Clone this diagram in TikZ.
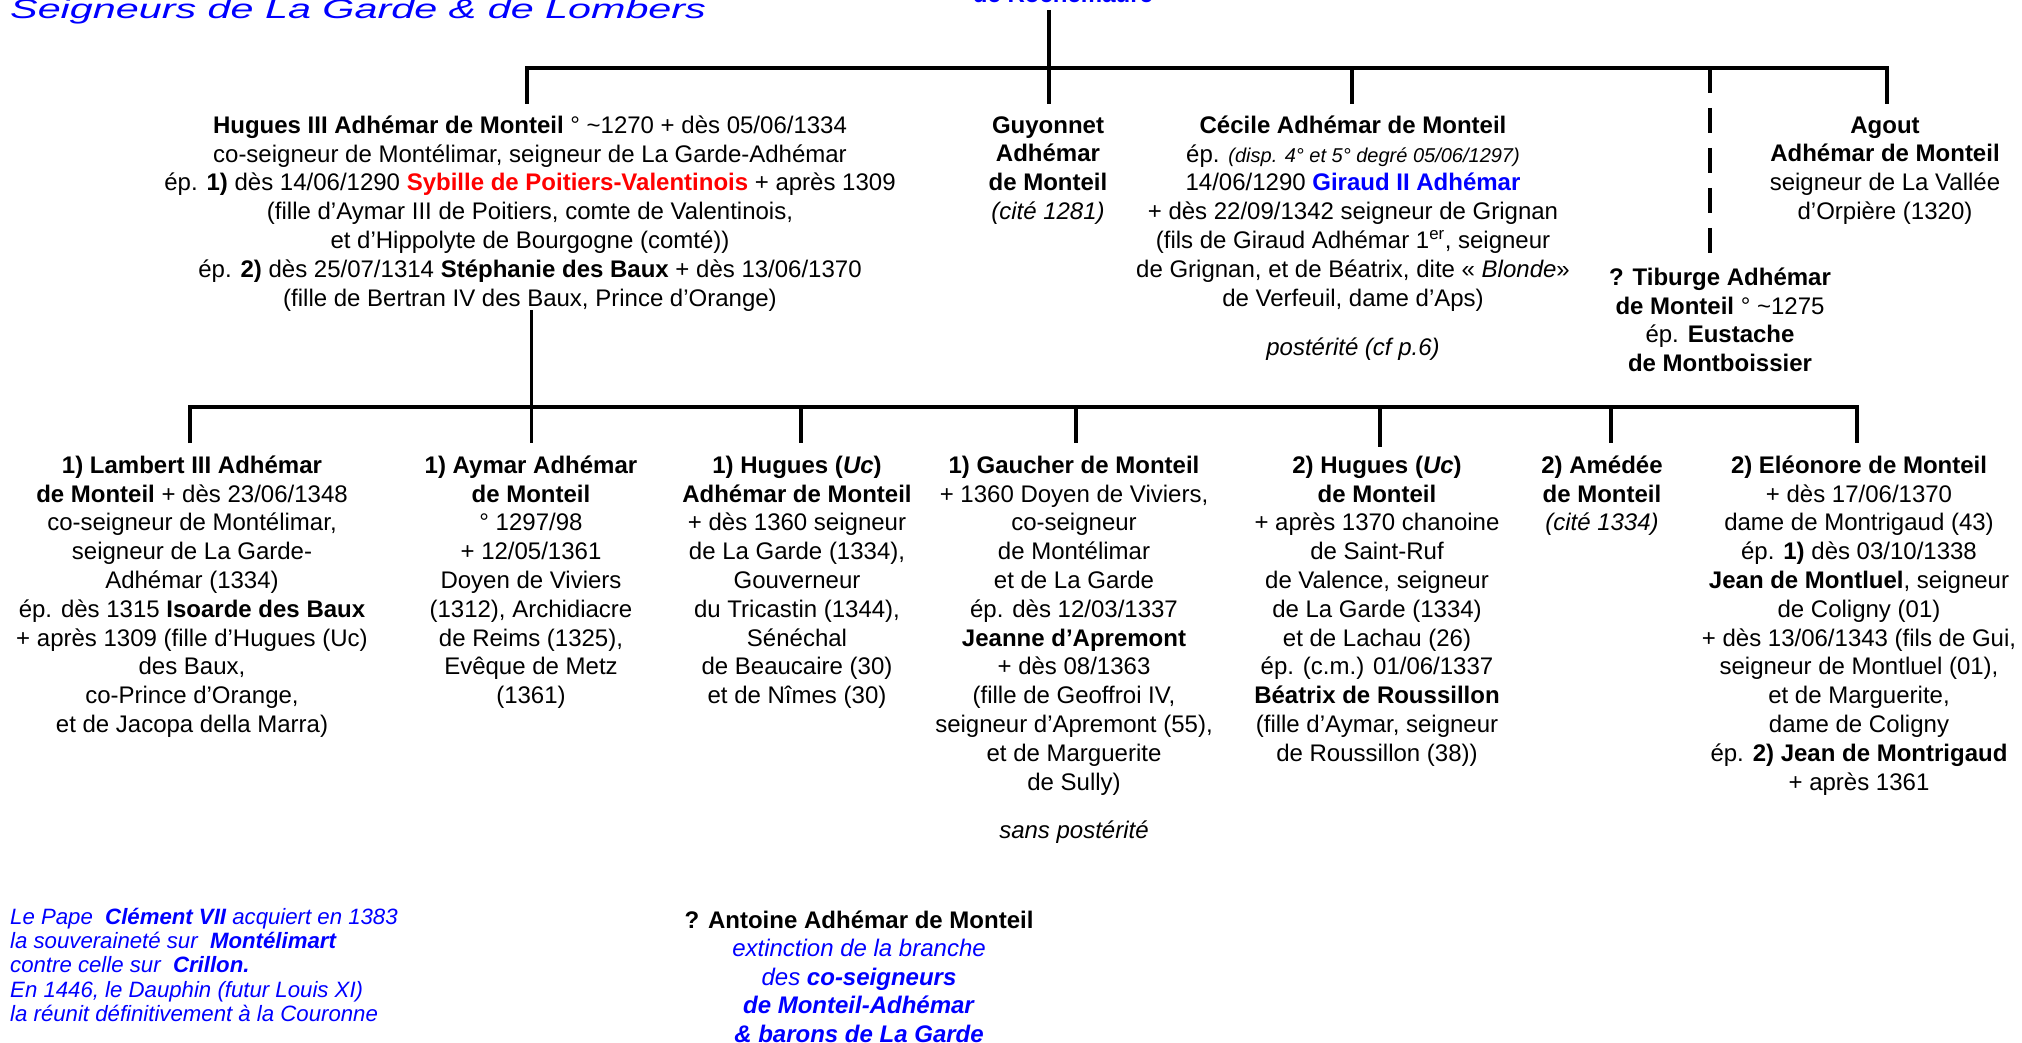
\documentclass[tikz,border=0pt]{standalone}
\usepackage{fontspec}
\usepackage{graphicx}
\setmainfont{Liberation Sans}
\definecolor{tblue}{RGB}{0,0,255}
\definecolor{tred}{RGB}{255,0,0}
\newcommand\fs{\rule{0pt}{22pt}}
\newcommand\fsn{\rule{0pt}{19pt}}
\tikzset{
  person/.style={anchor=north, align=center, inner sep=0pt, font=\fontsize{24}{28.8}\selectfont},
  note/.style={anchor=north west, align=left, inner sep=0pt, text=tblue, font=\fontsize{22.2}{24.3}\selectfont\itshape},
  link/.style={line width=4pt},
  thinlink/.style={line width=3pt},
}
\begin{document}
\begin{tikzpicture}[x=1pt,y=-1pt]
\useasboundingbox (0,0) rectangle (2022,1043);
\fill[white] (0,0) rectangle (2022,1043);

% title and head
\node[anchor=base west, inner sep=0pt, text=tblue, font=\fontsize{27}{30}\selectfont\itshape] (title) at (10,19)
  {\scalebox{1.53}[1]{Seigneurs de La Garde \& de Lombers}};
\node[anchor=base, inner sep=0pt, text=tblue, font=\fontsize{24}{28.8}\selectfont\bfseries] (roch) at (1063,3) {de Rochemaure};

% first generation
\node[person] (hugues) at (530,111) {\fs\textbf{Hugues III Adhémar de Monteil} ° \textasciitilde1270 + dès 05/06/1334\\
co-seigneur de Montélimar, seigneur de La Garde-Adhémar\\
ép. \textbf{1)} dès 14/06/1290 \textcolor{tred}{\textbf{Sybille de Poitiers-Valentinois}} + après 1309\\
(fille d’Aymar III de Poitiers, comte de Valentinois,\\
et d’Hippolyte de Bourgogne (comté))\\
ép. \textbf{2)} dès 25/07/1314 \textbf{Stéphanie des Baux} + dès 13/06/1370\\
(fille de Bertran IV des Baux, Prince d’Orange)};

\node[person] (guyonnet) at (1048,111) {\fs\textbf{Guyonnet}\\\textbf{Adhémar}\\\textbf{de Monteil}\\\textit{(cité 1281)}};

\node[person] (cecile) at (1353,111) {\fs\textbf{Cécile Adhémar de Monteil}\\
ép. {\fontsize{20}{28.8}\selectfont\itshape (disp. 4° et 5° degré 05/06/1297)}\\
14/06/1290 \textcolor{tblue}{\textbf{Giraud II Adhémar}}\\
+ dès 22/09/1342 seigneur de Grignan\\
(fils de Giraud Adhémar 1\textsuperscript{er}, seigneur\\
de Grignan, et de Béatrix, dite « \textit{Blonde}»\\
de Verfeuil, dame d’Aps)};
\node[person] (cecpost) at (1353,333) {\fs\textit{postérité (cf p.6)}};

\node[person] (tiburge) at (1720,263) {\fs\textbf{? Tiburge Adhémar}\\\textbf{de Monteil} ° \textasciitilde1275\\ép. \textbf{Eustache}\\\textbf{de Montboissier}};

\node[person] (agout) at (1885,111) {\fs\textbf{Agout}\\\textbf{Adhémar de Monteil}\\seigneur de La Vallée\\d’Orpière (1320)};

% second generation
\node[person] (lambert) at (192,451) {\fs\textbf{1) Lambert III Adhémar}\\
\textbf{de Monteil} + dès 23/06/1348\\
co-seigneur de Montélimar,\\
seigneur de La Garde-\\
Adhémar (1334)\\
ép. dès 1315 \textbf{Isoarde des Baux}\\
+ après 1309 (fille d’Hugues (Uc)\\
des Baux,\\
co-Prince d’Orange,\\
et de Jacopa della Marra)};

\node[person] (aymar) at (531,451) {\fs\textbf{1) Aymar Adhémar}\\
\textbf{de Monteil}\\
° 1297/98\\
+ 12/05/1361\\
Doyen de Viviers\\
(1312), Archidiacre\\
de Reims (1325),\\
Evêque de Metz\\
(1361)};

\node[person] (huguesuc) at (797,451) {\fs\textbf{1) Hugues (\textit{Uc})}\\
\textbf{Adhémar de Monteil}\\
+ dès 1360 seigneur\\
de La Garde (1334),\\
Gouverneur\\
du Tricastin (1344),\\
Sénéchal\\
de Beaucaire (30)\\
et de Nîmes (30)};

\node[person] (gaucher) at (1074,451) {\fs\textbf{1) Gaucher de Monteil}\\
+ 1360 Doyen de Viviers,\\
co-seigneur\\
de Montélimar\\
et de La Garde\\
ép. dès 12/03/1337\\
\textbf{Jeanne d’Apremont}\\
+ dès 08/1363\\
(fille de Geoffroi IV,\\
seigneur d’Apremont (55),\\
et de Marguerite\\
de Sully)};
\node[person] (gaupost) at (1074,816) {\fs\textit{sans postérité}};

\node[person] (hugues2) at (1377,451) {\fs\textbf{2) Hugues (\textit{Uc})}\\
\textbf{de Monteil}\\
+ après 1370 chanoine\\
de Saint-Ruf\\
de Valence, seigneur\\
de La Garde (1334)\\
et de Lachau (26)\\
ép. (c.m.) 01/06/1337\\
\textbf{Béatrix de Roussillon}\\
(fille d’Aymar, seigneur\\
de Roussillon (38))};

\node[person] (amedee) at (1602,451) {\fs\textbf{2) Amédée}\\\textbf{de Monteil}\\\textit{(cité 1334)}};

\node[person] (eleonore) at (1859,451) {\fs\textbf{2) Eléonore de Monteil}\\
+ dès 17/06/1370\\
dame de Montrigaud (43)\\
ép. \textbf{1)} dès 03/10/1338\\
\textbf{Jean de Montluel}, seigneur\\
de Coligny (01)\\
+ dès 13/06/1343 (fils de Gui,\\
seigneur de Montluel (01),\\
et de Marguerite,\\
dame de Coligny\\
ép. \textbf{2) Jean de Montrigaud}\\
+ après 1361};

% bottom
\node[note] (papenote) at (10,905) {\fsn Le Pape\ \ \textbf{Clément VII} acquiert en 1383\\
la souveraineté sur\ \ \textbf{Montélimart}\\
contre celle sur\ \ \textbf{Crillon.}\\
En 1446, le Dauphin (futur Louis XI)\\
la réunit définitivement à la Couronne};

\node[person, font=\fontsize{24}{28.5}\selectfont] (antoine) at (859,906) {\fs\textbf{? Antoine Adhémar de Monteil}\\
\textcolor{tblue}{\textit{extinction de la branche}}\\
\textcolor{tblue}{\textit{des \textbf{co-seigneurs}}}\\
\textcolor{tblue}{\textit{\textbf{de Monteil-Adhémar}}}\\
\textcolor{tblue}{\textit{\textbf{\& barons de La Garde}}}};

% connectors, first level
\coordinate (rochTop) at (1049,10);
\coordinate (barAL) at (527,68);
\coordinate (barAR) at (1887,68);
\coordinate (barAC) at (1352,68);
\coordinate (barAT) at (1710,68);
\coordinate (huguesIn) at (527,104);
\coordinate (guyIn) at (1049,104);
\coordinate (cecIn) at (1352,104);
\coordinate (tibIn) at (1710,255);
\coordinate (agoutIn) at (1887,104);
\draw[link] (huguesIn) -- (barAL) -- (barAR) -- (agoutIn);
\draw[link] (rochTop) -- (guyIn);
\draw[link] (barAC) -- (cecIn);
\draw[link, dash pattern=on 25pt off 15pt] (barAT) -- (tibIn);

% connectors, second level
\coordinate (huguesOut) at (531,310);
\coordinate (aymarIn) at (531,443);
\coordinate (barBL) at (190,407);
\coordinate (barBR) at (1857,407);
\coordinate (lambertIn) at (190,443);
\coordinate (eleoIn) at (1857,443);
\coordinate (barB3) at (801,407);
\coordinate (barB4) at (1076,407);
\coordinate (barB5) at (1380,407);
\coordinate (barB6) at (1611,407);
\coordinate (huguesucIn) at (801,443);
\coordinate (gaucherIn) at (1076,443);
\coordinate (hugues2In) at (1380,447);
\coordinate (amedeeIn) at (1611,443);
\draw[thinlink] (huguesOut) -- (aymarIn);
\draw[link] (lambertIn) -- (barBL) -- (barBR) -- (eleoIn);
\draw[link] (barB3) -- (huguesucIn);
\draw[link] (barB4) -- (gaucherIn);
\draw[link] (barB5) -- (hugues2In);
\draw[link] (barB6) -- (amedeeIn);
\end{tikzpicture}
\end{document}
